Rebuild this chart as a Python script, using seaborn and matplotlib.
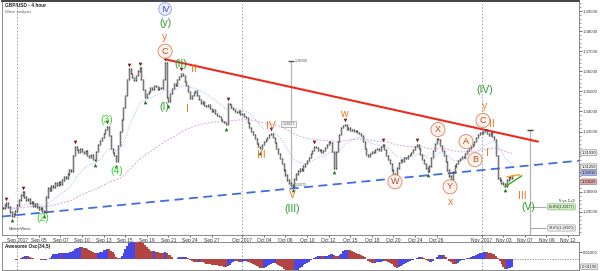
import numpy as np
import pandas as pd
import matplotlib
matplotlib.use("Agg")
import matplotlib.pyplot as plt
import matplotlib.transforms as mtransforms
import seaborn as sns

# ---------------- data (4-hour closes, bar index = position on chart) ----------------
closes = [
    1.2920, 1.2935, 1.2945, 1.2925, 1.2900, 1.2880, 1.2890, 1.2905, 1.2935, 1.2960,
    1.2985, 1.3000, 1.2975, 1.2960, 1.2965, 1.2945, 1.2950, 1.2930, 1.2940, 1.2925,
    1.2915, 1.2920, 1.2905, 1.2900, 1.2975, 1.3020, 1.3010, 1.3030, 1.3025, 1.3045,
    1.3035, 1.3050, 1.3040, 1.3060, 1.3075, 1.3070, 1.3090, 1.3110, 1.3105, 1.3180,
    1.3225, 1.3210, 1.3195, 1.3215, 1.3200, 1.3190, 1.3205, 1.3180, 1.3170, 1.3185,
    1.3160, 1.3155, 1.3200, 1.3235, 1.3255, 1.3270, 1.3290, 1.3310, 1.3325, 1.3280,
    1.3215, 1.3195, 1.3180, 1.3150, 1.3230, 1.3300, 1.3360, 1.3420, 1.3480, 1.3560,
    1.3610, 1.3590, 1.3570, 1.3555, 1.3580, 1.3600, 1.3615, 1.3560, 1.3510, 1.3470,
    1.3490, 1.3500, 1.3520, 1.3510, 1.3530, 1.3525, 1.3510, 1.3520, 1.3515, 1.3560,
    1.3640, 1.3470, 1.3450, 1.3490, 1.3515, 1.3540, 1.3530, 1.3560, 1.3575, 1.3590,
    1.3580, 1.3550, 1.3530, 1.3500, 1.3465, 1.3480, 1.3495, 1.3505, 1.3480, 1.3460,
    1.3440, 1.3450, 1.3430, 1.3425, 1.3435, 1.3415, 1.3400, 1.3410, 1.3390, 1.3380,
    1.3375, 1.3360, 1.3350, 1.3345, 1.3335, 1.3440, 1.3435, 1.3420, 1.3410, 1.3400,
    1.3395, 1.3405, 1.3385, 1.3390, 1.3375, 1.3370, 1.3345, 1.3320, 1.3300, 1.3285,
    1.3265, 1.3240, 1.3225, 1.3215, 1.3235, 1.3250, 1.3260, 1.3270, 1.3285, 1.3290,
    1.3270, 1.3245, 1.3215, 1.3190, 1.3165, 1.3140, 1.3110, 1.3085, 1.3060, 1.3045,
    1.3035, 1.3030, 1.3065, 1.3090, 1.3105, 1.3115, 1.3110, 1.3130, 1.3140, 1.3155,
    1.3170, 1.3190, 1.3205, 1.3225, 1.3220, 1.3205, 1.3210, 1.3195, 1.3205, 1.3220,
    1.3235, 1.3250, 1.3245, 1.3200, 1.3120, 1.3200, 1.3250, 1.3285, 1.3320, 1.3330,
    1.3335, 1.3310, 1.3320, 1.3305, 1.3310, 1.3300, 1.3305, 1.3295, 1.3290, 1.3280,
    1.3250, 1.3215, 1.3185, 1.3175, 1.3190, 1.3200, 1.3195, 1.3210, 1.3215, 1.3205,
    1.3225, 1.3235, 1.3210, 1.3180, 1.3160, 1.3140, 1.3110, 1.3090, 1.3080, 1.3120,
    1.3145, 1.3160, 1.3150, 1.3170, 1.3165, 1.3180, 1.3185, 1.3195, 1.3210, 1.3225,
    1.3235, 1.3215, 1.3185, 1.3160, 1.3140, 1.3120, 1.3105, 1.3130, 1.3170, 1.3205,
    1.3240, 1.3265, 1.3260, 1.3230, 1.3205, 1.3180, 1.3150, 1.3110, 1.3080, 1.3065,
    1.3100, 1.3130, 1.3140, 1.3155, 1.3165, 1.3175, 1.3170, 1.3190, 1.3205, 1.3215,
    1.3225, 1.3235, 1.3250, 1.3270, 1.3285, 1.3295, 1.3290, 1.3300, 1.3310, 1.3290,
    1.3280, 1.3295, 1.3275, 1.3260, 1.3180, 1.3070, 1.3060, 1.3045, 1.3040, 1.3030,
    1.3060, 1.3075, 1.3070, 1.3080,
]

tick_bars = [8, 20, 32, 44, 56, 68, 80, 92, 104, 116, 133, 145, 157, 169, 181,
             193, 205, 217, 229, 241, 266, 278, 290, 302, 314]
tick_labels = ["Sep 2017", "Sep 05", "Sep 07", "Sep 10", "Sep 13", "Sep 15", "Sep 19",
               "Sep 21", "Sep 24", "Sep 27", "Oct 2017", "Oct 04", "Oct 06", "Oct 10",
               "Oct 12", "Oct 15", "Oct 18", "Oct 20", "Oct 24", "Oct 26", "Nov 2017",
               "Nov 03", "Nov 07", "Nov 09", "Nov 12"]
month_bars = [8, 133, 266]

price_ticks = [1.29, 1.30, 1.33, 1.34, 1.35, 1.36, 1.37, 1.38, 1.39]

fractal_high_bars = [2, 11, 40, 58, 70, 76, 90, 99, 125, 149, 173, 190, 211, 230, 268]
fractal_low_bars = [5, 23, 51, 63, 79, 92, 124, 143, 161, 184, 218, 236, 249, 279]

# wave labels: text, bar, price, kind
wave_text = ["IV", "(y)", "y", "C", "(II)", "II", "(I)", "I", "(2)", "(3)", "(4)",
             "III", "IV", "V", "(III)", "w", "W", "X", "Y", "x", "A", "B", "C", "y",
             "(IV)", "II", "I", "III", "(V)"]
wave_bar = [90.1, 90.1, 90.1, 90.1, 99.0, 106.2, 89.5, 102.8, 22.3, 57.8, 63.4,
            143.4, 149.0, 160.6, 160.6, 189.5, 217.8, 241.7, 248.4, 248.4, 257.3, 262.3,
            266.7, 267.8, 267.8, 271.7, 269.4, 288.4, 291.7]
wave_price = [1.3910, 1.3840, 1.3770, 1.3700, 1.3635, 1.3610, 1.3420, 1.3410, 1.2870,
              1.3360, 1.3105, 1.3185, 1.3330, 1.2985, 1.2915, 1.3385, 1.3050, 1.3310,
              1.3025, 1.2950, 1.3250, 1.3160, 1.3355, 1.3425, 1.3505, 1.3340, 1.3195,
              1.2980, 1.2925]
wave_kind = ["blue", "green", "orange", "circ", "green", "orange", "green", "orange",
             "lime", "lime", "lime", "orange", "orange", "orange", "green", "orange",
             "circ", "circ", "circ", "orange", "circ", "circ", "circ", "orange",
             "green", "orange", "orange", "orange", "green"]

# trend lines (bar, price end points)
red_line_bar = [90.1, 297.3]
red_line_price = [1.3660, 1.3250]
blue_line_bar = [-0.5, 320.0]
blue_line_price = [1.2877, 1.3155]
tri_green_bar = [278.9, 288.3]
tri_green_price = [1.3025, 1.3080]
tri_orange_bar = [280.0, 287.2]
tri_orange_price = [1.3075, 1.3085]

# fibonacci measuring tools
fib1_bar = 160.1
fib1_price = [1.3650, 1.3020]
fib2_bar = 292.8
fib2_price = [1.3310, 1.2785]
fib2_levels = [1.2925, 1.2820]
fib2_texts = ["61.8%(1.29177)", "78.6%(1.28260)"]

# right-axis price boxes
box_prices = [1.3195, 1.3125, 1.3095, 1.3050]
box_texts = ["1.31930", "1.31250", "1.30915", "1.30525"]

# ---------------- frame ----------------
df = pd.DataFrame({"bar": np.arange(len(closes)), "close": closes})
df["open"] = df["close"].shift(1).fillna(df["close"])
df["lo"] = df[["open", "close"]].min(axis=1)
df["hi"] = df[["open", "close"]].max(axis=1)
df["ema_fast"] = df["close"].ewm(span=21, adjust=False).mean()
df["ema_slow"] = df["close"].ewm(span=100, adjust=False).mean()
df["ao"] = df["close"].rolling(5, min_periods=1).mean() - df["close"].rolling(34, min_periods=1).mean()
df["ao_up"] = df["ao"].diff().fillna(0) >= 0

sns.set_theme(style="white")
plt.rcParams["font.family"] = ["Liberation Sans", "DejaVu Sans"]

W, H = 600, 271
fig = plt.figure(figsize=(W / 100, H / 100), dpi=100)
ax = fig.add_axes([2 / W, 36 / H, 577 / W, 234 / H])
axo = fig.add_axes([2 / W, 1 / H, 577 / W, 28 / H], sharex=ax)

XMIN, XMAX = -0.5, 320.06
ax.set_xlim(XMIN, XMAX)
ax.set_ylim(1.2785, 1.3950)

# month separators
for mb in month_bars:
    ax.axvline(mb, color="#9a9a9a", lw=0.6, ls=(0, (2, 2)), zorder=1)
    axo.axvline(mb, color="#9a9a9a", lw=0.6, ls=(0, (2, 2)), zorder=1)

# moving averages
sns.lineplot(data=df, x="bar", y="ema_slow", ax=ax, color="#d9a6d9", lw=0.7,
             linestyle=(0, (2, 1.5)), zorder=2)
sns.lineplot(data=df, x="bar", y="ema_fast", ax=ax, color="#a8c0f5", lw=0.6,
             linestyle=(0, (1.5, 1.5)), zorder=2)

# trend lines
sns.lineplot(x=blue_line_bar, y=blue_line_price, ax=ax, color="#3f6fe0", lw=1.3,
             linestyle=(0, (5, 3)), zorder=3)
sns.lineplot(x=red_line_bar, y=red_line_price, ax=ax, color="#ee2a1e", lw=1.5, zorder=4)

# candles
ax.vlines(df["bar"], df["lo"] - 0.0004, df["hi"] + 0.0004, color="#303030", lw=1.0, zorder=5)
ax.vlines(df["bar"], df["lo"], df["hi"], color="#9a9a9a", lw=0.5, zorder=5)

# fractal markers
off_up = mtransforms.offset_copy(ax.transData, fig=fig, x=0, y=3.5, units="dots")
off_dn = mtransforms.offset_copy(ax.transData, fig=fig, x=0, y=-3.5, units="dots")
hb = df.loc[fractal_high_bars]
lb = df.loc[fractal_low_bars]
ax.scatter(hb["bar"], hb["hi"] + 0.0004, marker="v", s=7, color="#7a1a1a", transform=off_up, zorder=6, linewidths=0)
ax.scatter(lb["bar"], lb["lo"] - 0.0004, marker="^", s=7, color="#1f7a1f", transform=off_dn, zorder=6, linewidths=0)

# small triangle lines
sns.lineplot(x=tri_green_bar, y=tri_green_price, ax=ax, color="#33aa22", lw=1.0, zorder=6)
sns.lineplot(x=tri_orange_bar, y=tri_orange_price, ax=ax, color="#ff9a20", lw=1.0, zorder=6)

# fib tools
ax.vlines([fib1_bar], fib1_price[1], fib1_price[0], color="#b5b5b5", lw=0.9, zorder=3)
ax.hlines([fib1_price[0]], fib1_bar - 1.5, fib1_bar + 1.5, color="#555555", lw=1.0, zorder=3)
ax.text(fib1_bar + 2.0, fib1_price[0], "1.36580", fontsize=2.6, color="#555555", va="center")
ax.text(fib1_bar - 1.5, 1.3340, "1.33317", fontsize=2.4, color="#555555", va="center", ha="center",
        bbox=dict(boxstyle="square,pad=0.3", fc="#f4f4f4", ec="#888888", lw=0.4), zorder=7)
ax.text(fib1_bar + 2.0, 1.3035, "1.30275", fontsize=2.4, color="#555555", va="center")
ax.vlines([fib2_bar], fib2_price[1], fib2_price[0], color="#b5b5b5", lw=0.9, zorder=3)
ax.hlines([fib2_price[0]], fib2_bar - 1.5, fib2_bar + 1.5, color="#444444", lw=1.0, zorder=3)
ax.hlines(fib2_levels, fib2_bar, fib2_bar + 9, color="#aaaaaa", lw=0.8, zorder=3)
ax.text(fib2_bar + 17.5, fib2_levels[0], fib2_texts[0], fontsize=2.6, color="#222222",
        ha="center", va="center",
        bbox=dict(boxstyle="round,pad=0.3", fc="#cdeec0", ec="#88aa77", lw=0.4), zorder=7)
ax.text(fib2_bar + 17.5, fib2_levels[1], fib2_texts[1], fontsize=2.6, color="#222222",
        ha="center", va="center",
        bbox=dict(boxstyle="round,pad=0.3", fc="#f2f2f2", ec="#888888", lw=0.4), zorder=7)
ax.text(fib2_bar + 25, fib2_levels[0] + 0.0030, "5 vs 1+3", fontsize=3.0, color="#111111",
        ha="right", va="center", zorder=7)

# wave labels
colors = {"green": "#2c9a2c", "orange": "#f07820", "lime": "#33dd33", "blue": "#3b4bd8",
          "circ": "#b04a28"}
for t, b, p, k in zip(wave_text, wave_bar, wave_price, wave_kind):
    if k == "circ":
        ax.text(b, p, t, fontsize=6.5, color=colors[k], ha="center", va="center", zorder=8,
                bbox=dict(boxstyle="circle,pad=0.28", fc="#fff3ec", ec="#e09070", lw=0.7))
    elif k == "blue":
        ax.text(b, p, t, fontsize=6.5, color=colors[k], ha="center", va="center", zorder=8,
                bbox=dict(boxstyle="circle,pad=0.2", fc="#eef0ff", ec="#98a4f0", lw=0.7))
    else:
        ax.text(b, p, t, fontsize=7.5, color=colors[k], ha="center", va="center", zorder=8)

# titles
ax.text(0.006, 0.992, "GBP/USD - 4 hour", transform=ax.transAxes, fontsize=3.4,
        color="#222222", fontweight="bold", va="top", ha="left")
ax.text(0.006, 0.962, "Wave analysis", transform=ax.transAxes, fontsize=3.0,
        color="#666666", va="top", ha="left")
ax.text(0.012, 0.018, "MotiveWave", transform=ax.transAxes, fontsize=3.0,
        color="#444444", va="bottom", ha="left")

# axes styling main
ax.set_xlabel("")
ax.set_ylabel("")
ax.yaxis.tick_right()
ax.set_yticks(price_ticks)
ax.set_yticklabels([f"{v:.5f}" for v in price_ticks])
ax.set_yticks(np.arange(1.280, 1.395, 0.002), minor=True)
ax.tick_params(axis="y", which="major", labelsize=3.1, length=2.0, width=0.5, pad=0.8,
               colors="#333333", right=True, left=False)
ax.tick_params(axis="y", which="minor", length=1.2, width=0.4, right=True, left=False,
               colors="#555555")
ax.set_xticks(tick_bars)
ax.set_xticklabels(tick_labels)
ax.tick_params(axis="x", labelsize=3.5, length=1.5, width=0.5, pad=0.8, colors="#333333",
               bottom=True, labelbottom=True)
for s in ["left", "bottom", "right"]:
    ax.spines[s].set_color("#777777")
    ax.spines[s].set_linewidth(0.6)
ax.spines["top"].set_color("#222222")
ax.spines["top"].set_linewidth(1.2)

box_fc = ["#f0f0f0", "#f0f0f0", "#a9b4f2", "#e6a6a6"]
for p, t, fc in zip(box_prices, box_texts, box_fc):
    ax.text(1.0045, p, t, transform=ax.get_yaxis_transform(), fontsize=2.9, color="#222222",
            ha="left", va="center", clip_on=False,
            bbox=dict(boxstyle="round,pad=0.2", fc=fc, ec="#777777", lw=0.4))

# ---------------- Awesome oscillator ----------------
axo.bar(df["bar"], df["ao"], width=1.0, color=np.where(df["ao_up"], "#4848e6", "#b24444"),
        linewidth=0, zorder=3)
axo.hlines([0.0], df["bar"].iloc[-1], XMAX, color="#888888", lw=0.6, ls=(0, (1.5, 1.5)))
axo.set_ylim(-0.0157, 0.0243)
axo.set_xlim(XMIN, XMAX)
axo.yaxis.tick_right()
axo.set_yticks([0.01])
axo.set_yticklabels(["0.01000"])
axo.tick_params(axis="y", labelsize=3.1, length=2.0, width=0.5, pad=0.8, colors="#333333")
axo.tick_params(axis="x", bottom=False, labelbottom=False)
axo.set_xlabel("")
axo.set_ylabel("")
for s in axo.spines.values():
    s.set_color("#777777")
    s.set_linewidth(0.6)
axo.text(0.006, 0.93, "Awesome Osc(34,5)", transform=axo.transAxes, fontsize=3.4,
         color="#222222", fontweight="bold", va="top", ha="left")
axo.text(1.0045, -0.011, f"{df['ao'].iloc[-1]:.5f}", transform=axo.get_yaxis_transform(),
         fontsize=2.8, color="#222222", ha="left", va="center", clip_on=False,
         bbox=dict(boxstyle="round,pad=0.2", fc="#f0f0f0", ec="#777777", lw=0.4))

fig.savefig("out.png", dpi=100)
